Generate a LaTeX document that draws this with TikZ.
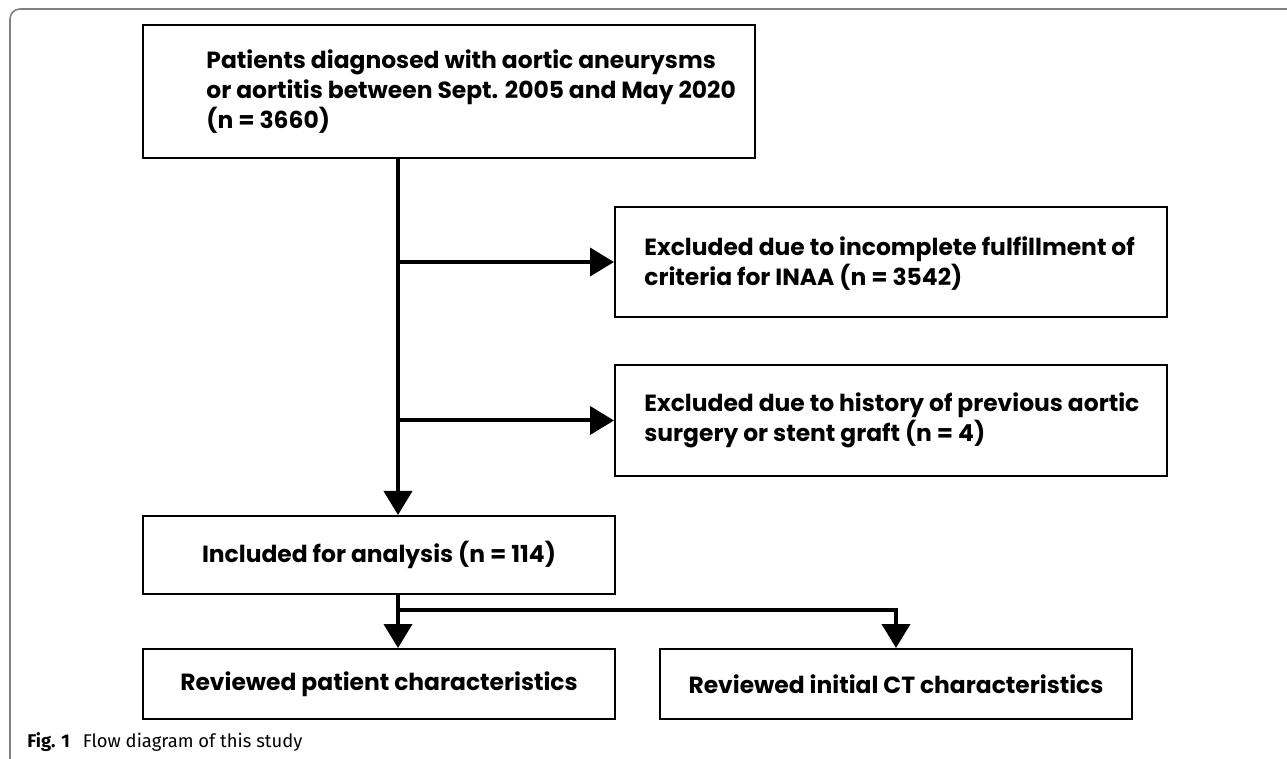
\documentclass[tikz,border=0pt]{standalone}
\usepackage{fontspec}
\usetikzlibrary{arrows.meta}
\newfontfamily\boxfont{Poppins}
\newfontfamily\capfont{Fira Sans}
\tikzset{
  boxtext/.style={inner sep=0pt, font=\boxfont\bfseries\fontsize{11.7}{15}\selectfont},
  flowbox/.style={boxtext, draw, line width=1pt},
  flowarrow/.style={line width=2pt, -{Triangle[length=12pt,width=14pt]}},
}
\begin{document}
\begin{tikzpicture}[x=0.5pt,y=-0.5pt]
  \useasboundingbox (0,0) rectangle (1287,759);
  % frame
  \draw[black!50, line width=0.8pt, rounded corners=5pt] (10,759) -- (10,9) -- (1287,9);

  % boxes
  \node[flowbox, minimum width=306pt, minimum height=66.5pt] (pat) at (449,91.5) {};
  \node[boxtext, anchor=west, align=left] (pattext) at ([xshift=32pt]pat.west)
    {Patients diagnosed with aortic aneurysms\\or aortitis between Sept. 2005 and May 2020\\(n = 3660)};
  \node[flowbox, minimum width=276pt, minimum height=55pt] (exc1) at (891,262) {};
  \node[boxtext, anchor=west, align=left] (exc1text) at ([xshift=15pt,yshift=-1pt]exc1.west)
    {Excluded due to incomplete fulfillment of\\criteria for INAA (n = 3542)};
  \node[flowbox, minimum width=276pt, minimum height=55.5pt] (exc2) at (891,420.5) {};
  \node[boxtext, anchor=west, align=left] (exc2text) at ([xshift=15pt]exc2.west)
    {Excluded due to history of previous aortic\\surgery or stent graft (n = 4)};
  \node[flowbox, minimum width=236pt, minimum height=39pt] (incl) at (379,555) {Included for analysis (n = 114)};
  \node[flowbox, minimum width=236pt, minimum height=35pt] (rev1) at (379,684) {Reviewed patient characteristics};
  \node[flowbox, minimum width=236pt, minimum height=35pt] (rev2) at (896,684) {Reviewed initial CT characteristics};

  % connectors
  \coordinate (spine) at ([xshift=9.5pt]incl.north);
  \draw[flowarrow] (spine |- pat.south) -- (spine);
  \draw[flowarrow] (spine |- exc1.west) -- (exc1.west);
  \draw[flowarrow] (spine |- exc2.west) -- (exc2.west);
  \coordinate (split) at ([yshift=-7.5pt]spine |- incl.south);
  \draw[flowarrow] (spine |- incl.south) -- (split |- rev1.north);
  \draw[flowarrow] (split) -- (split -| rev2.north) -- (rev2.north);

  \node[anchor=west, inner sep=0pt, font=\capfont\fontsize{9.2}{11}\selectfont] (caption) at (27,742)
    {\textbf{Fig. 1}\hspace{0.7em}Flow diagram of this study};
\end{tikzpicture}
\end{document}
